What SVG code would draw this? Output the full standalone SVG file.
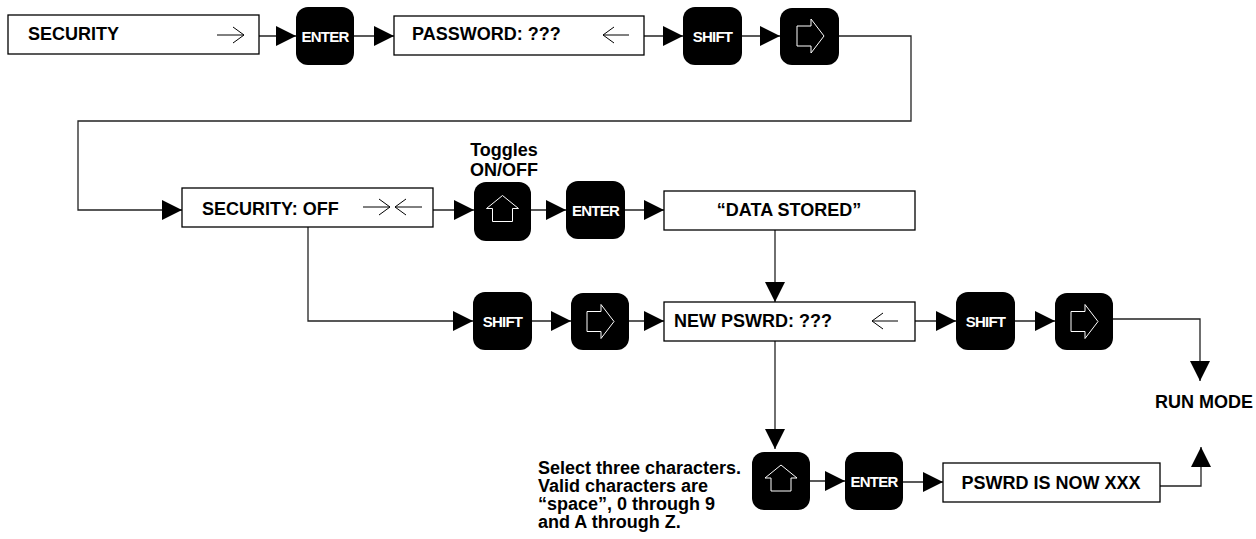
<svg xmlns="http://www.w3.org/2000/svg" width="1256" height="539" viewBox="0 0 1256 539">
<style>
.box{fill:#fff;stroke:#000;stroke-width:1.3}
.btn{fill:#000}
.ico{fill:none;stroke:#fff;stroke-width:1}
.t{font-family:"Liberation Sans",Arial,sans-serif;font-weight:bold;font-size:18px;fill:#000}
.bt{font-family:"Liberation Sans",Arial,sans-serif;font-weight:bold;font-size:15px;fill:#fff;letter-spacing:-0.8px;text-anchor:middle}
.sym{fill:none;stroke:#000;stroke-width:1}
.c{fill:none;stroke:#222;stroke-width:1.3}
</style>
<defs>
<marker id="ah" markerWidth="20" markerHeight="20" refX="20" refY="10" orient="auto" markerUnits="userSpaceOnUse"><path d="M0,0 L20,10 L0,20 Z" fill="#000"/></marker>
<path id="house" d="M0,-16 L16,-3 L10,-3 L10,10 L-10,10 L-10,-3 L-16,-3 Z"/>
<path id="rarr" d="M-13,-10 H1 V-17 L14,0 L1,17 V10 H-13 Z"/>
</defs>

<g id="connectors">
<path class="c" d="M259,36 H296" marker-end="url(#ah)"/>
<path class="c" d="M354,36 H394" marker-end="url(#ah)"/>
<path class="c" d="M644,36 H683" marker-end="url(#ah)"/>
<path class="c" d="M742,36 H780" marker-end="url(#ah)"/>
<path class="c" d="M839,36 H911 V121 H78 V210 H182" marker-end="url(#ah)"/>
<path class="c" d="M433,210 H474" marker-end="url(#ah)"/>
<path class="c" d="M531,210 H566" marker-end="url(#ah)"/>
<path class="c" d="M625,210 H664" marker-end="url(#ah)"/>
<path class="c" d="M775,230 V302" marker-end="url(#ah)"/>
<path class="c" d="M308,227 V321 H473" marker-end="url(#ah)"/>
<path class="c" d="M532,321 H571" marker-end="url(#ah)"/>
<path class="c" d="M629,321 H664" marker-end="url(#ah)"/>
<path class="c" d="M915,321 H956" marker-end="url(#ah)"/>
<path class="c" d="M1015,321 H1055" marker-end="url(#ah)"/>
<path class="c" d="M1113,319 H1200 V381" marker-end="url(#ah)"/>
<path class="c" d="M775,341 V449" marker-end="url(#ah)"/>
<path class="c" d="M810,481 H845" marker-end="url(#ah)"/>
<path class="c" d="M903,482 H943" marker-end="url(#ah)"/>
<path class="c" d="M1160,486 H1201 V447" marker-end="url(#ah)"/>
</g>

<g id="security">
<rect class="box" x="8" y="15" width="251" height="39"/>
<text class="t" x="28" y="40">SECURITY</text>
<path class="sym" d="M217,35 H244 M233,27 L244,35 L233,43"/>
</g>

<g id="enter1">
<rect class="btn" x="296" y="7" width="58" height="58" rx="12"/>
<text class="bt" x="325" y="41.5">ENTER</text>
</g>

<g id="password">
<rect class="box" x="394" y="16" width="250" height="39"/>
<text class="t" x="412" y="40">PASSWORD: ???</text>
<path class="sym" d="M603,35 H629 M614,27 L603,35 L614,43"/>
</g>

<g id="shift1">
<rect class="btn" x="683" y="7" width="59" height="58" rx="12"/>
<text class="bt" x="712.5" y="41.5">SHIFT</text>
</g>

<g id="right1">
<rect class="btn" x="780" y="8" width="59" height="57" rx="12"/>
<use href="#rarr" class="ico" transform="translate(810,36)"/>
</g>

<g id="security-off">
<rect class="box" x="182" y="188" width="251" height="39"/>
<text class="t" x="202" y="215">SECURITY: OFF</text>
<path class="sym" d="M363,207 H390 M379,199 L390,207 L379,215 M395,207 H422 M406,199 L395,207 L406,215"/>
</g>

<g id="toggles-label">
<text class="t" x="504" y="156" text-anchor="middle">Toggles</text>
<text class="t" x="504" y="176" text-anchor="middle">ON/OFF</text>
</g>

<g id="up1">
<rect class="btn" x="474" y="182" width="57" height="59" rx="12"/>
<use href="#house" class="ico" transform="translate(502.5,211.5)"/>
</g>

<g id="enter2">
<rect class="btn" x="566" y="181" width="59" height="58" rx="12"/>
<text class="bt" x="595.5" y="215.5">ENTER</text>
</g>

<g id="data-stored">
<rect class="box" x="664" y="191" width="251" height="39"/>
<text class="t" x="789" y="216" text-anchor="middle">“DATA STORED”</text>
</g>

<g id="shift2">
<rect class="btn" x="473" y="292" width="59" height="58" rx="12"/>
<text class="bt" x="502.5" y="326.5">SHIFT</text>
</g>

<g id="right2">
<rect class="btn" x="571" y="293" width="58" height="57" rx="12"/>
<use href="#rarr" class="ico" transform="translate(600,321.5)"/>
</g>

<g id="new-pswrd">
<rect class="box" x="664" y="302" width="251" height="39"/>
<text class="t" x="674" y="327">NEW PSWRD: ???</text>
<path class="sym" d="M872,321 H898 M883,313 L872,321 L883,329"/>
</g>

<g id="shift3">
<rect class="btn" x="956" y="292" width="59" height="58" rx="12"/>
<text class="bt" x="985.5" y="326.5">SHIFT</text>
</g>

<g id="right3">
<rect class="btn" x="1055" y="293" width="58" height="57" rx="12"/>
<use href="#rarr" class="ico" transform="translate(1084,321.5)"/>
</g>

<g id="run-mode">
<text class="t" x="1204" y="408" text-anchor="middle">RUN MODE</text>
</g>

<g id="note">
<text class="t" x="538" y="474">Select three characters.</text>
<text class="t" x="538" y="492">Valid characters are</text>
<text class="t" x="538" y="510">“space”, 0 through 9</text>
<text class="t" x="538" y="528">and A through Z.</text>
</g>

<g id="up2">
<rect class="btn" x="752" y="452" width="58" height="58" rx="12"/>
<use href="#house" class="ico" transform="translate(781,481)"/>
</g>

<g id="enter3">
<rect class="btn" x="845" y="452" width="58" height="58" rx="12"/>
<text class="bt" x="874" y="486.5">ENTER</text>
</g>

<g id="pswrd-now">
<rect class="box" x="943" y="463" width="217" height="39"/>
<text class="t" x="1051" y="489" text-anchor="middle">PSWRD IS NOW XXX</text>
</g>
</svg>
